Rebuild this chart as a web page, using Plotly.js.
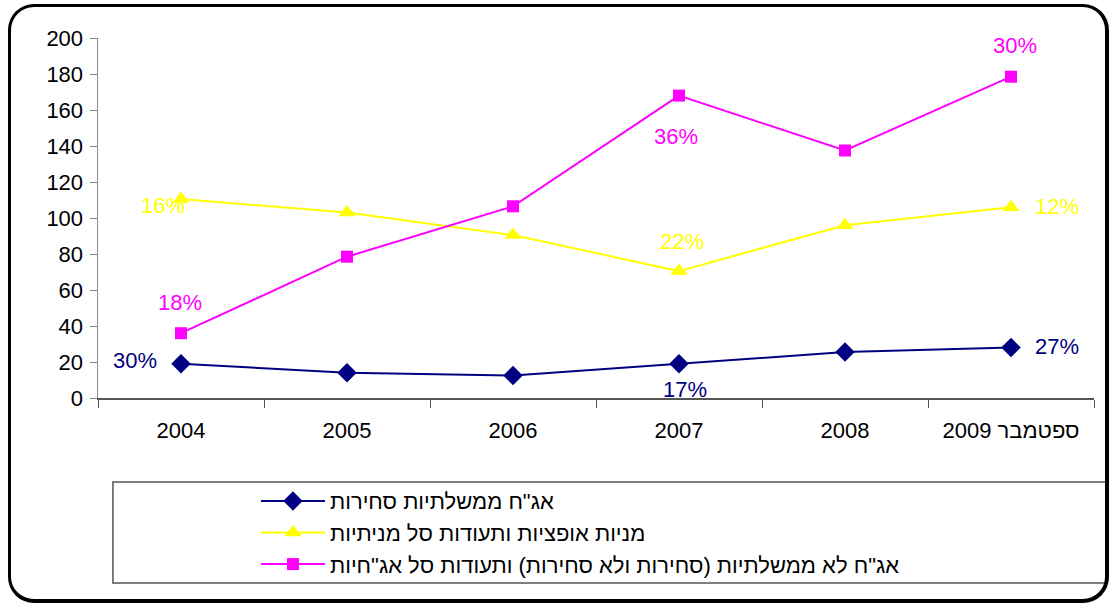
<!DOCTYPE html>
<html>
<head>
<meta charset="utf-8">
<script src="https://cdn.plot.ly/plotly-3.0.1.min.js"></script>
<style>
html,body{margin:0;padding:0;background:#fff;}
#wrap{position:relative;width:1110px;height:605px;}
#chart{position:absolute;left:0;top:0;width:1110px;height:605px;}
#frame{position:absolute;left:8px;top:4px;width:1094px;height:592px;border:3px solid #000;border-right-width:4px;border-bottom-width:4px;border-radius:26px;pointer-events:none;}
</style>
</head>
<body>
<div id="wrap"><div id="chart"></div><div id="frame"></div></div>
<script>
// Categories (x-axis tick labels)
const categories = ["2004", "2005", "2006", "2007", "2008", "ספטמבר 2009"];

// Series names
const seriesNames = [
  'אג"ח ממשלתיות סחירות',
  'מניות אופציות ותעודות סל מניתיות',
  'אג"ח לא ממשלתיות (סחירות ולא סחירות) ותעודות סל אג"חיות'
];

// Series values
const govBonds = [19, 14, 12.5, 19, 25.5, 28];
const stocks = [110.5, 103, 90.5, 70.5, 96, 106];
const corpBonds = [36, 78.5, 106.5, 168, 137.5, 178.5];

// Percent labels: [category index, text]
const govLabels = [[0, "30%"], [3, "17%"], [5, "27%"]];
const stockLabels = [[0, "16%"], [3, "22%"], [5, "12%"]];
const corpLabels = [[0, "18%"], [3, "36%"], [5, "30%"]];

// y tick values
const yTicks = [0, 20, 40, 60, 80, 100, 120, 140, 160, 180, 200];

const NAVY = "#000080", YEL = "#FFFF00", MAG = "#FF00FF";
const FONT = "Liberation Sans, Arial, sans-serif";

const traces = [
  {x: categories, y: govBonds, name: seriesNames[0], type: "scatter", mode: "lines+markers",
   line: {color: NAVY, width: 2}, marker: {symbol: "diamond", size: 15, color: NAVY}},
  {x: categories, y: stocks, name: seriesNames[1], type: "scatter", mode: "lines+markers",
   line: {color: YEL, width: 2}, marker: {symbol: "triangle-up", size: 15, color: YEL}},
  {x: categories, y: corpBonds, name: seriesNames[2], type: "scatter", mode: "lines+markers",
   line: {color: MAG, width: 2}, marker: {symbol: "square", size: 12, color: MAG}}
];

// label offsets in pixels (style/position config)
const offsets = {
  gov: [[-46, 3], [6, -26], [46, 1]],
  stock: [[-18, -6], [3, 30], [46, 1]],
  corp: [[-1, 31], [-3, -41], [4, 31]]
};
function mkAnn(labels, vals, offs, color) {
  return labels.map((l, i) => ({
    x: l[0], y: vals[l[0]], xref: "x", yref: "y", text: l[1],
    showarrow: false, xshift: offs[i][0], yshift: offs[i][1],
    font: {family: FONT, size: 22, color: color}
  }));
}
const annotations = [].concat(
  mkAnn(govLabels, govBonds, offsets.gov, NAVY),
  mkAnn(stockLabels, stocks, offsets.stock, YEL),
  mkAnn(corpLabels, corpBonds, offsets.corp, MAG)
);

const layout = {
  width: 1110, height: 605,
  margin: {l: 98, r: 16, t: 38, b: 207},
  paper_bgcolor: "#fff", plot_bgcolor: "rgba(0,0,0,0)",
  font: {family: FONT, size: 20, color: "#000"},
  showlegend: true,
  legend: {x: 0.1586, y: -0.228, xanchor: "left", yanchor: "top", itemwidth: 64,
    font: {family: FONT, size: 22, color: "#000"}, bgcolor: "rgba(0,0,0,0)",
    tracegroupgap: 0},
  xaxis: {type: "category", range: [-0.5, 5.5], tickson: "boundaries",
    showline: true, linecolor: "#555", linewidth: 1.5, ticks: "outside", ticklen: 8,
    tickcolor: "#555", showgrid: false, zeroline: false,
    tickfont: {family: FONT, size: 22, color: "#000"}, ticklabelstandoff: 12, fixedrange: true},
  yaxis: {range: [0, 200], tickvals: yTicks, showline: true, linecolor: "#888", linewidth: 1.5,
    ticks: "outside", ticklen: 7, tickcolor: "#888", showgrid: false, zeroline: false,
    tickfont: {family: FONT, size: 22, color: "#000"}, ticklabelstandoff: 2, fixedrange: true},
  annotations: annotations,
  shapes: [
    {type: "rect", xref: "paper", yref: "paper", x0: 0.015, x1: 1.012, y0: -0.514, y1: -0.2333,
     line: {color: "#555", width: 1.5}, fillcolor: "rgba(0,0,0,0)"}
  ]
};

Plotly.newPlot("chart", traces, layout, {displayModeBar: false, staticPlot: true});
</script>
</body>
</html>
